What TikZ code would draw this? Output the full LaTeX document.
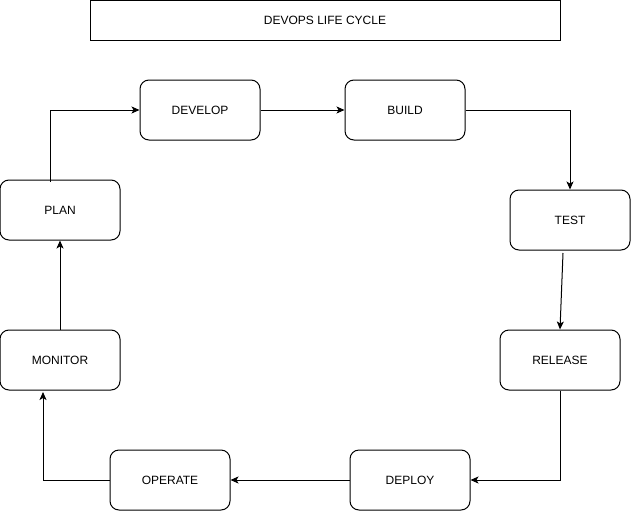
\documentclass[tikz,border=0pt]{standalone}
\usepackage{fontspec}
\setmainfont{Liberation Sans}
\usetikzlibrary{arrows.meta}
\begin{document}
\begin{tikzpicture}[x=1pt,y=-1pt,
  stage/.style={draw=black, line width=1pt, rounded corners=9pt, minimum width=120pt, minimum height=60pt, inner sep=0pt, font=\fontsize{12}{14}\selectfont, fill=white},
  titlebox/.style={draw=black, line width=1pt, minimum width=470pt, minimum height=40pt, inner sep=0pt, font=\fontsize{12}{14}\selectfont},
  flow/.style={draw=black, line width=1pt, -{Stealth[length=8pt,width=7pt,inset=2pt]}}]
\useasboundingbox (0,0) rectangle (631,511);
\node[titlebox] (title) at (325,20.5) {DEVOPS LIFE CYCLE};
\node[stage] (develop) at (200,110) {DEVELOP};
\node[stage] (build) at (405,110) {BUILD};
\node[stage] (test) at (570,220) {TEST};
\node[stage] (release) at (560,360) {RELEASE};
\node[stage] (deploy) at (410,480) {DEPLOY};
\node[stage] (operate) at (170,480) {OPERATE};
\node[stage] (monitor) at (60,360) {MONITOR};
\node[stage] (plan) at (60,210) {PLAN};
\coordinate (planout) at (50,182);
\coordinate (testout) at (563,253);
\coordinate (monin) at (43,392);
\draw[flow] (planout) |- (develop.west);
\draw[flow] (develop.east) -- (build.west);
\draw[flow] (build.east) -| (test.north);
\draw[flow] (testout) -- (release.north);
\draw[flow] (release.south) |- (deploy.east);
\draw[flow] (deploy.west) -- (operate.east);
\draw[flow] (operate.west) -| (monin);
\draw[flow] (monitor.north) -- (plan.south);
\end{tikzpicture}
\end{document}
